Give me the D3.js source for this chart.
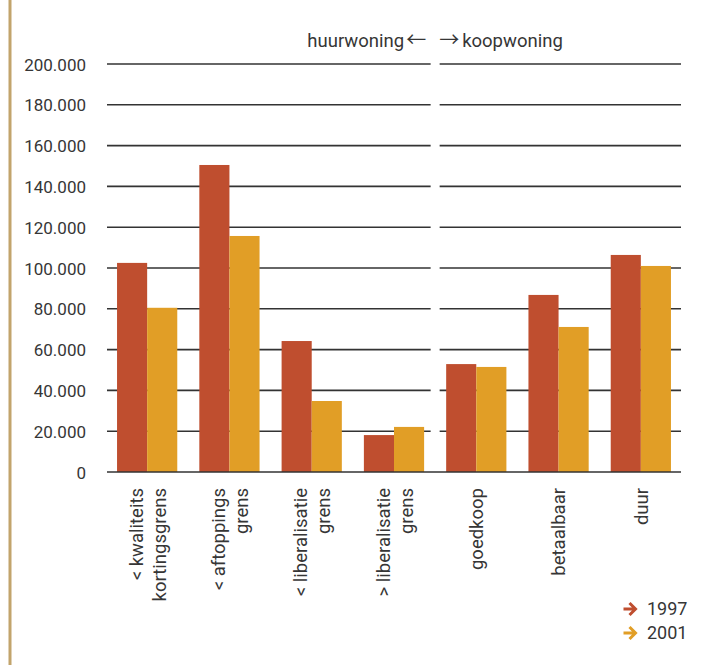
<!DOCTYPE html>
<html>
<head>
<meta charset="utf-8">
<script src="https://cdn.jsdelivr.net/npm/d3@7"></script>
<style>
  html, body { margin: 0; padding: 0; background: #fff; }
  svg { display: block; font-family: Roboto, "DejaVu Sans", sans-serif; }
</style>
</head>
<body>
<svg id="chart" width="707" height="665"></svg>
<script>
// Woningen per prijsklasse, 1997 en 2001
const categories = [
  ["< kwaliteits", "kortingsgrens"],
  ["< aftoppings", "grens"],
  ["< liberalisatie", "grens"],
  ["> liberalisatie", "grens"],
  ["goedkoop"],
  ["betaalbaar"],
  ["duur"]
];
const years = ["1997", "2001"];
const values1997 = [102500, 150500, 64200, 18100, 52900, 86800, 106400];
const values2001 = [80500, 115700, 34800, 22100, 51500, 71100, 101000];
const yTicks = [0, 20000, 40000, 60000, 80000, 100000, 120000, 140000, 160000, 180000, 200000];
const sideLabels = ["huurwoning", "koopwoning"];

const colors = { "1997": "#bf4e2f", "2001": "#e19e26" };
const textColor = "#363636";

const svg = d3.select("#chart");

// left accent rule
svg.append("rect").attr("x", 8.5).attr("y", 0).attr("width", 3).attr("height", 665)
  .attr("fill", "#c2a46c");

const plotLeft = 107, plotRight = 681, plotTop = 64, plotBottom = 472;
const keys = categories.map((c, i) => "c" + i);

const x = d3.scaleBand().domain(keys).range([plotLeft, plotRight])
  .paddingInner(0.268).paddingOuter(0.122);
const x1 = d3.scaleBand().domain(years).range([0, x.bandwidth()]).padding(0);
const y = d3.scaleLinear().domain([0, 200000]).range([plotBottom, plotTop]);

const nl = d3.formatLocale({ decimal: ",", thousands: ".", grouping: [3], currency: ["€", ""] });
const fmt = nl.format(",d");

// split between rental and owner-occupied groups
const splitX = (x(keys[3]) + x.bandwidth() + x(keys[4])) / 2;
const gapHalf = 4.5;

const grid = svg.append("g");
yTicks.filter(d => d > 0).forEach(t => {
  grid.append("line").attr("x1", plotLeft).attr("x2", splitX - gapHalf)
    .attr("y1", y(t)).attr("y2", y(t));
  grid.append("line").attr("x1", splitX + gapHalf).attr("x2", plotRight)
    .attr("y1", y(t)).attr("y2", y(t));
});
grid.selectAll("line").attr("stroke", "#333").attr("stroke-width", 1.6);

// y axis labels
const yAxis = d3.axisLeft(y).tickValues(yTicks).tickFormat(fmt).tickSize(0).tickPadding(0);
const ya = svg.append("g").attr("transform", "translate(86,0)").call(yAxis);
ya.select(".domain").remove();
ya.selectAll("text").attr("font-size", 17).attr("fill", textColor)
  .attr("font-family", "Roboto, sans-serif").attr("dy", "0.36em");

// bars
const series = { "1997": values1997, "2001": values2001 };
const groups = svg.append("g").selectAll("g").data(keys).join("g")
  .attr("transform", d => `translate(${x(d)},0)`);
groups.selectAll("rect")
  .data((d, i) => years.map(yr => ({ yr, v: series[yr][i] })))
  .join("rect")
  .attr("x", d => x1(d.yr))
  .attr("width", x1.bandwidth())
  .attr("y", d => y(d.v))
  .attr("height", d => y(0) - y(d.v))
  .attr("fill", d => colors[d.yr]);

// baseline
svg.append("line").attr("x1", plotLeft).attr("x2", plotRight)
  .attr("y1", y(0)).attr("y2", y(0))
  .attr("stroke", "#333").attr("stroke-width", 1.6);

// category labels, rotated
const labelTop = 488;
categories.forEach((lines, i) => {
  const cx = x(keys[i]) + x.bandwidth() / 2;
  const offsets = lines.length === 2 ? [-11, 12] : [0];
  lines.forEach((txt, j) => {
    svg.append("text")
      .attr("transform", `translate(${cx + offsets[j]},${labelTop}) rotate(-90)`)
      .attr("text-anchor", "end")
      .attr("dy", "0.36em")
      .attr("font-size", 18.5)
      .attr("fill", textColor)
      .text(txt);
  });
});

// rental / owner-occupied header
const headY = 46.5;
const header = svg.append("g").attr("fill", textColor);
header.append("text").attr("x", splitX - 31).attr("y", headY)
  .attr("text-anchor", "end").attr("font-size", 18.5).text(sideLabels[0]);
header.append("text").attr("x", splitX - 19).attr("y", headY)
  .attr("text-anchor", "middle").attr("font-size", 20)
  .attr("font-family", "'Noto Sans CJK SC', 'DejaVu Sans', sans-serif").text("\u2190");
header.append("text").attr("x", splitX + 14).attr("y", headY)
  .attr("text-anchor", "middle").attr("font-size", 20)
  .attr("font-family", "'Noto Sans CJK SC', 'DejaVu Sans', sans-serif").text("\u2192");
header.append("text").attr("x", splitX + 27).attr("y", headY)
  .attr("text-anchor", "start").attr("font-size", 18.5).text(sideLabels[1]);

// legend
const legend = svg.append("g");
years.forEach((yr, i) => {
  const cy = 609 + i * 24;
  const g = legend.append("g");
  g.append("path")
    .attr("d", `M623.5,${cy} H635 M629.5,${cy - 6} L635.5,${cy} L629.5,${cy + 6}`)
    .attr("fill", "none").attr("stroke", colors[yr]).attr("stroke-width", 3)
    .attr("stroke-linecap", "butt");
  g.append("text").attr("x", 647).attr("y", cy).attr("dy", "0.36em")
    .attr("font-size", 18).attr("fill", textColor).text(yr);
});
</script>
</body>
</html>
